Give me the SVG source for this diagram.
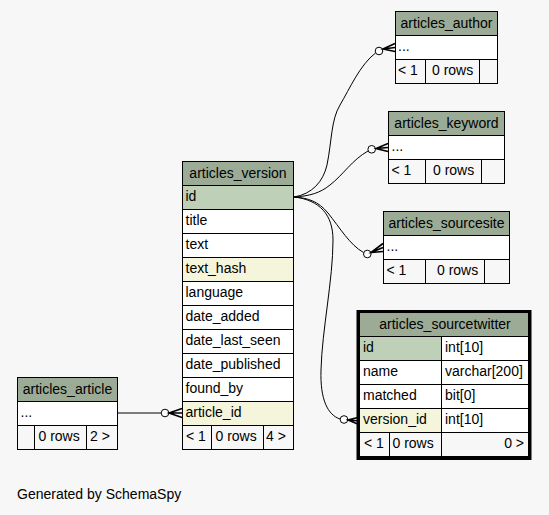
<svg xmlns="http://www.w3.org/2000/svg" width="549" height="515" viewBox="0 0 549 515">
<style>
text{font-family:"Liberation Sans",Arial,sans-serif;font-size:14px;fill:#000}
.hd{fill:#9bab96;stroke:#000;stroke-width:1}
.pk{fill:#bed1b8;stroke:#000;stroke-width:1}
.ix{fill:#f5f5dc;stroke:#000;stroke-width:1}
.rw{fill:#ffffff;stroke:#000;stroke-width:1}
.ft{fill:#f7f7f7;stroke:#000;stroke-width:1}
.c{text-anchor:middle}
.e{text-anchor:end}
.ln{fill:none;stroke:#000;stroke-width:1}
.dot{fill:#ffffff;stroke:#000;stroke-width:1}
.crow{fill:none;stroke:#000;stroke-width:1.6}
</style>
<rect x="0" y="0" width="549" height="515" fill="#f7f7f7"/>

<g id="connectors">
  <path class="ln" d="M294,197 C312,194 323,182 327,165 C332,140 331,120 340,105 C350,88 360,65 375.5,53"/>
  <circle class="dot" cx="379" cy="51" r="3.8"/>
  <path class="crow" d="M395,43.5 L383,49 L395,51.5 M383,49 L395,47.5"/>

  <path class="ln" d="M294,197 C310,196 320,193 330,185 C343,175 352,160 368,151"/>
  <circle class="dot" cx="371.7" cy="149.3" r="3.8"/>
  <path class="crow" d="M388,143.5 L376,148.5 L388,151.5 M376,148.5 L388,147.5"/>

  <path class="ln" d="M294,197 C308,198 318,201 328,213 C340,228 350,245 363.5,252.5"/>
  <circle class="dot" cx="367.3" cy="254" r="3.8"/>
  <path class="crow" d="M383,243.5 L371,252.5 L383,251.5 M371,252.5 L383,247.5"/>

  <path class="ln" d="M294,197 C320,200 333,215 333,240 C333,280 322,330 321,370 C320,400 328,415 340,419"/>
  <circle class="dot" cx="344" cy="419.5" r="3.8"/>
  <path class="crow" d="M360,417 L348,420 L360,425 M348,420 L360,421"/>

  <path class="ln" d="M117,413 L161,413"/>
  <circle class="dot" cx="165" cy="413" r="3.8"/>
  <path class="crow" d="M182,408.5 L169,413 L182,417.5 M169,413 L182,413"/>
</g>

<g id="articles_author">
  <rect class="hd" x="395.5" y="11.5" width="102" height="24"/>
  <rect class="rw" x="395.5" y="35.5" width="102" height="24"/>
  <rect class="ft" x="395.5" y="59.5" width="30" height="24"/>
  <rect class="ft" x="425.5" y="59.5" width="54" height="24"/>
  <rect class="ft" x="479.5" y="59.5" width="18" height="24"/>
  <text class="c" x="446.5" y="27.5">articles_author</text>
  <text x="398" y="51">...</text>
  <text x="398" y="75">&lt; 1</text>
  <text x="432" y="75">0 rows</text>
</g>

<g id="articles_keyword">
  <rect class="hd" x="388.5" y="111.5" width="116" height="24"/>
  <rect class="rw" x="388.5" y="135.5" width="116" height="24"/>
  <rect class="ft" x="388.5" y="159.5" width="37" height="24"/>
  <rect class="ft" x="425.5" y="159.5" width="56" height="24"/>
  <rect class="ft" x="481.5" y="159.5" width="23" height="24"/>
  <text class="c" x="446.5" y="127.5">articles_keyword</text>
  <text x="391.5" y="151">...</text>
  <text x="391.5" y="175">&lt; 1</text>
  <text x="433" y="175">0 rows</text>
</g>

<g id="articles_sourcesite">
  <rect class="hd" x="383.5" y="211.5" width="126" height="24"/>
  <rect class="rw" x="383.5" y="235.5" width="126" height="24"/>
  <rect class="ft" x="383.5" y="259.5" width="42" height="24"/>
  <rect class="ft" x="425.5" y="259.5" width="59" height="24"/>
  <rect class="ft" x="484.5" y="259.5" width="25" height="24"/>
  <text class="c" x="446.5" y="227.5">articles_sourcesite</text>
  <text x="386.5" y="251">...</text>
  <text x="386.5" y="275">&lt; 1</text>
  <text x="437" y="275">0 rows</text>
</g>

<g id="articles_version">
  <rect class="hd" x="182.5" y="161.5" width="111" height="24"/>
  <rect class="pk" x="182.5" y="185.5" width="111" height="24"/>
  <rect class="rw" x="182.5" y="209.5" width="111" height="24"/>
  <rect class="rw" x="182.5" y="233.5" width="111" height="24"/>
  <rect class="ix" x="182.5" y="257.5" width="111" height="24"/>
  <rect class="rw" x="182.5" y="281.5" width="111" height="24"/>
  <rect class="rw" x="182.5" y="305.5" width="111" height="24"/>
  <rect class="rw" x="182.5" y="329.5" width="111" height="24"/>
  <rect class="rw" x="182.5" y="353.5" width="111" height="24"/>
  <rect class="rw" x="182.5" y="377.5" width="111" height="24"/>
  <rect class="ix" x="182.5" y="401.5" width="111" height="24"/>
  <rect class="ft" x="182.5" y="425.5" width="29" height="24"/>
  <rect class="ft" x="211.5" y="425.5" width="52" height="24"/>
  <rect class="ft" x="263.5" y="425.5" width="30" height="24"/>
  <text class="c" x="238" y="177.5">articles_version</text>
  <text x="185.5" y="201">id</text>
  <text x="185.5" y="225">title</text>
  <text x="185.5" y="249">text</text>
  <text x="185.5" y="273">text_hash</text>
  <text x="185.5" y="297">language</text>
  <text x="185.5" y="321">date_added</text>
  <text x="185.5" y="345">date_last_seen</text>
  <text x="185.5" y="369">date_published</text>
  <text x="185.5" y="393">found_by</text>
  <text x="185.5" y="417">article_id</text>
  <text x="186" y="441">&lt; 1</text>
  <text x="215.5" y="441">0 rows</text>
  <text x="266" y="441">4 &gt;</text>
</g>

<g id="articles_sourcetwitter">
  <rect x="358" y="311.5" width="172" height="147" fill="none" stroke="#000" stroke-width="3"/>
  <rect class="hd" x="359.5" y="312.5" width="169" height="24"/>
  <rect class="pk" x="359.5" y="336.5" width="82" height="24"/>
  <rect class="rw" x="441.5" y="336.5" width="87" height="24"/>
  <rect class="rw" x="359.5" y="360.5" width="82" height="24"/>
  <rect class="rw" x="441.5" y="360.5" width="87" height="24"/>
  <rect class="rw" x="359.5" y="384.5" width="82" height="24"/>
  <rect class="rw" x="441.5" y="384.5" width="87" height="24"/>
  <rect class="ix" x="359.5" y="408.5" width="82" height="24"/>
  <rect class="rw" x="441.5" y="408.5" width="87" height="24"/>
  <rect class="ft" x="359.5" y="432.5" width="30" height="24"/>
  <rect class="ft" x="389.5" y="432.5" width="52" height="24"/>
  <rect class="ft" x="441.5" y="432.5" width="87" height="24"/>
  <text class="c" x="445" y="328.5">articles_sourcetwitter</text>
  <text x="363" y="352">id</text>
  <text x="445" y="352">int[10]</text>
  <text x="363" y="376">name</text>
  <text x="445" y="376">varchar[200]</text>
  <text x="363" y="400">matched</text>
  <text x="445" y="400">bit[0]</text>
  <text x="363" y="424">version_id</text>
  <text x="445" y="424">int[10]</text>
  <text x="364" y="448">&lt; 1</text>
  <text x="392.5" y="448">0 rows</text>
  <text class="e" x="524" y="448">0 &gt;</text>
</g>

<g id="articles_article">
  <rect class="hd" x="17.5" y="377.5" width="100" height="24"/>
  <rect class="rw" x="17.5" y="401.5" width="100" height="24"/>
  <rect class="ft" x="17.5" y="425.5" width="17" height="24"/>
  <rect class="ft" x="34.5" y="425.5" width="52" height="24"/>
  <rect class="ft" x="86.5" y="425.5" width="31" height="24"/>
  <text class="c" x="67.5" y="393.5">articles_article</text>
  <text x="20.5" y="417">...</text>
  <text x="38.5" y="441">0 rows</text>
  <text x="90" y="441">2 &gt;</text>
</g>

<text x="17" y="499">Generated by SchemaSpy</text>
</svg>
